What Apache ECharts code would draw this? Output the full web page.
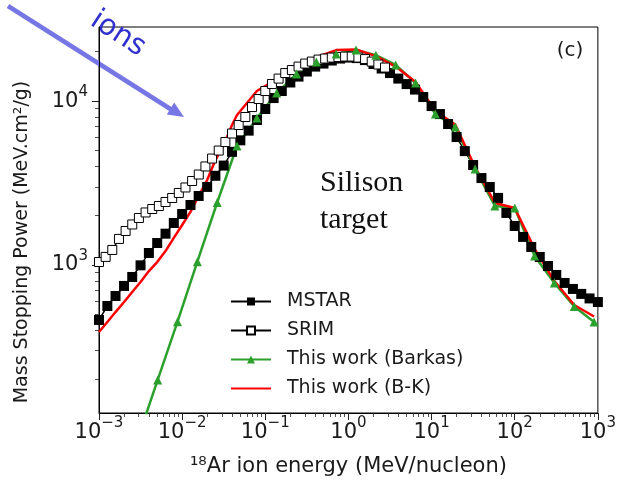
<!DOCTYPE html>
<html>
<head>
<meta charset="utf-8">
<script src="https://cdn.jsdelivr.net/npm/echarts@6/dist/echarts.min.js"></script>
<style>
  html, body { margin: 0; padding: 0; background: #fff; }
  #chart { width: 619px; height: 484px; }
</style>
</head>
<body>
<div id="chart"></div>
<script>
// Stopping power of 18Ar ions in a silicon target (MeV cm^2/g vs MeV/nucleon)

// MSTAR table
const mstarEnergy = [0.001, 0.00126, 0.00158, 0.002, 0.00251, 0.00316, 0.00398, 0.00501, 0.00631, 0.00794,
  0.01, 0.0126, 0.0158, 0.02, 0.0251, 0.0316, 0.0398, 0.0501, 0.0631, 0.0794,
  0.1, 0.126, 0.158, 0.2, 0.251, 0.316, 0.398, 0.501, 0.631, 0.794,
  1, 1.26, 1.58, 2, 2.51, 3.16, 3.98, 5.01, 6.31, 7.94,
  10, 12.6, 15.8, 20, 25.1, 31.6, 39.8, 50.1, 63.1, 79.4,
  100, 126, 158, 200, 251, 316, 398, 501, 631, 794, 1000];
const mstarPower = [462, 562, 647, 745, 845, 995, 1183, 1361, 1552, 1804,
  2046, 2323, 2636, 2993, 3500, 4040, 4900, 5760, 6600, 7660,
  8940, 10430, 11510, 12980, 14100, 15140, 16230, 16930, 17670, 18170,
  18420, 18280, 17780, 16820, 15790, 14820, 13710, 12690, 11750, 10580,
  9320, 8330, 7240, 6030, 4950, 4070, 3390, 2990, 2565, 2077,
  1729, 1483, 1288, 1119, 986, 869, 777, 714, 666, 625, 594];

// SRIM table
const srimEnergy = [0.001, 0.001202, 0.001445, 0.001738, 0.002089, 0.002512, 0.00302, 0.003631, 0.004365, 0.005248,
  0.00631, 0.007586, 0.00912, 0.01096, 0.01318, 0.01585, 0.01905, 0.02291, 0.02754, 0.03311,
  0.03981, 0.04786, 0.05754, 0.06918, 0.08318, 0.1, 0.1202, 0.1445, 0.1738, 0.2089,
  0.2512, 0.302, 0.3631, 0.4365, 0.5248, 0.631, 0.7586, 0.912, 1.096, 1.318,
  1.585, 1.905, 2.291, 2.754];
const srimPower = [1042, 1120, 1235, 1442, 1612, 1766, 1935, 2091, 2195, 2290,
  2422, 2563, 2750, 2970, 3253, 3563, 3990, 4460, 4990, 5620,
  6340, 7140, 7990, 9190, 10290, 11510, 12700, 13710, 14820, 15460,
  16230, 16930, 17410, 17910, 18170, 18420, 18550, 18680, 18680, 18420,
  18030, 17410, 16710, 16010];

// This work, Barkas correction
const barkasEnergy = [0.00293, 0.00508, 0.0088, 0.01524, 0.0264, 0.04572, 0.0792, 0.1372, 0.2376, 0.4115,
  0.7128, 1.235, 2.138, 3.704, 6.415, 11.11, 19.25, 33.33, 57.74, 100,
  173.2, 300, 519.6, 900];
const barkasPower = [87.3, 199, 451, 1048, 2405, 5320, 7870, 11190, 14630, 17300,
  19360, 20480, 19050, 16600, 12880, 8330, 6940, 3850, 2290, 2228,
  1135, 776, 558, 449];

// This work, Barkas + Kinchin (B-K)
const bkEnergy = [0.001, 0.00126, 0.00158, 0.002, 0.00251, 0.00316, 0.00398, 0.00501, 0.00631, 0.00794,
  0.01, 0.0126, 0.0158, 0.02, 0.0251, 0.0316, 0.0398,
  0.04572, 0.0792, 0.1372, 0.2376, 0.4115, 0.7128, 1.235, 2.138, 3.704, 6.415,
  11.11, 19.25, 33.33, 57.74, 100, 173.2, 300, 519.6, 900];
const bkPower = [390, 449, 516, 594, 684, 787, 918, 1042, 1216, 1462,
  1754, 2106, 2636, 3300, 4366, 5396, 7140,
  8220, 11510, 13620, 16000, 18530, 20470, 20660, 18790, 16230, 13060,
  8690, 7200, 3960, 2390, 2228, 1253, 798, 570, 485];

const seriesNames = ['MSTAR', 'SRIM', 'This work (Barkas)', 'This work (B-K)'];

// axis ranges and tick decades
const energyRange = [0.001, 1000];
const powerRange = [125, 28300];
const energyDecades = [-3, -2, -1, 0, 1, 2, 3];
const powerDecades = [3, 4];
const minorMultipliers = [2, 3, 4, 5, 6, 7, 8, 9];

const FONT = 'DejaVu Sans';
const INK = '#1a1a1a';
const lg = Math.log10;
const toPoints = (xs, ys) => xs.map((x, i) => [lg(x), lg(ys[i])]);

function minorTicks(range) {
  const lo = lg(range[0]), hi = lg(range[1]);
  const out = [];
  for (let d = Math.floor(lo); d <= Math.ceil(hi); d++) {
    minorMultipliers.forEach(m => {
      const v = d + lg(m);
      if (v > lo && v < hi) out.push(v);
    });
  }
  return out;
}

function powLabel(v) {
  const e = Math.round(v);
  const sup = (e < 0 ? '\u2212' : '') + Math.abs(e);
  return '{b|10}{s|' + sup + '}';
}

const labelRich = {
  b: { fontSize: 21, fontFamily: FONT, color: INK, lineHeight: 33 },
  s: { fontSize: 15, fontFamily: FONT, color: INK, lineHeight: 15, verticalAlign: 'top' }
};

const xMin = lg(energyRange[0]), xMax = lg(energyRange[1]);
const yMin = lg(powerRange[0]), yMax = lg(powerRange[1]);

const chart = echarts.init(document.getElementById('chart'), null, { renderer: 'canvas' });

chart.setOption({
  animation: false,
  backgroundColor: '#fff',
  grid: {
    left: 99, right: 16, top: 27, bottom: 71,
    show: true, borderColor: '#000', borderWidth: 1, backgroundColor: 'transparent'
  },
  xAxis: [
    {
      type: 'value', min: xMin, max: xMax, position: 'bottom',
      name: '\u00b9\u2078Ar ion energy (MeV/nucleon)',
      nameLocation: 'middle', nameGap: 43,
      nameTextStyle: { fontSize: 21, fontFamily: FONT, color: INK },
      axisLine: { show: true, onZero: false, lineStyle: { color: '#000', width: 1 } },
      axisTick: { show: true, length: 7, lineStyle: { color: '#222', width: 1 }, customValues: energyDecades },
      axisLabel: { customValues: energyDecades, margin: 3, formatter: powLabel, rich: labelRich },
      splitLine: { show: false }
    },
    {
      type: 'value', min: xMin, max: xMax, position: 'bottom',
      axisLine: { show: false, onZero: false },
      axisTick: { show: true, length: 4, lineStyle: { color: '#222', width: 0.8 }, customValues: minorTicks(energyRange) },
      axisLabel: { show: false },
      splitLine: { show: false }
    }
  ],
  yAxis: [
    {
      type: 'value', min: yMin, max: yMax, position: 'left',
      name: 'Mass Stopping Power (MeV.cm\u00b2/g)',
      nameLocation: 'middle', nameGap: 67, nameRotate: 90,
      nameTextStyle: { fontSize: 19, fontFamily: FONT, color: INK, padding: [0, 44, 0, 0] },
      axisLine: { show: true, onZero: false, lineStyle: { color: '#000', width: 1 } },
      axisTick: { show: true, length: 7, lineStyle: { color: '#222', width: 1 }, customValues: powerDecades },
      axisLabel: { customValues: powerDecades, margin: 11, formatter: powLabel, rich: labelRich },
      splitLine: { show: false }
    },
    {
      type: 'value', min: yMin, max: yMax, position: 'left',
      axisLine: { show: false, onZero: false },
      axisTick: { show: true, length: 4, lineStyle: { color: '#222', width: 0.8 }, customValues: minorTicks(powerRange) },
      axisLabel: { show: false },
      splitLine: { show: false }
    }
  ],
  legend: {
    orient: 'vertical', left: 225, top: 287,
    itemWidth: 40, itemHeight: 10, itemGap: 10,
    textStyle: { fontSize: 19, fontFamily: FONT, color: INK, padding: [0, 0, 0, 11] },
    data: [
      { name: seriesNames[0] },
      { name: seriesNames[1] },
      { name: seriesNames[2] },
      { name: seriesNames[3], itemStyle: { opacity: 0 } }
    ],
    selectedMode: false
  },
  series: [
    {
      name: seriesNames[0], type: 'line', xAxisIndex: 0, yAxisIndex: 0,
      data: toPoints(mstarEnergy, mstarPower),
      symbol: 'rect', symbolSize: 10, showAllSymbol: true, silent: true,
      itemStyle: { color: '#000' },
      lineStyle: { color: '#000', width: 1.5 }
    },
    {
      name: seriesNames[1], type: 'line', xAxisIndex: 0, yAxisIndex: 0,
      data: toPoints(srimEnergy, srimPower),
      symbol: 'rect', symbolSize: 9, showAllSymbol: true, silent: true,
      itemStyle: { color: '#fff', borderColor: '#000', borderWidth: 1 },
      lineStyle: { color: '#000', width: 1.5 }
    },
    {
      name: seriesNames[2], type: 'line', xAxisIndex: 0, yAxisIndex: 0,
      data: toPoints(barkasEnergy, barkasPower),
      symbol: 'triangle', symbolSize: 9, showAllSymbol: true, silent: true,
      itemStyle: { color: '#2ca02c' },
      lineStyle: { color: '#2ca02c', width: 2.5 }
    },
    {
      name: seriesNames[3], type: 'line', xAxisIndex: 0, yAxisIndex: 0,
      data: toPoints(bkEnergy, bkPower),
      symbol: 'none', silent: true,
      itemStyle: { color: '#ff0000' },
      lineStyle: { color: '#ff0000', width: 2.5 }
    }
  ],
  graphic: [
    // incoming-ion arrow
    { type: 'line', silent: true, shape: { x1: 8, y1: 6, x2: 172, y2: 110 },
      style: { stroke: '#7676e4', lineWidth: 4.5 } },
    { type: 'polygon', silent: true, shape: { points: [[184, 117], [166.8, 114.4], [174.2, 102.6]] },
      style: { fill: '#7676e4' } },
    { type: 'text', silent: true, x: 118, y: 34, rotation: -0.58,
      style: { text: 'ions', fontSize: 29, fontFamily: FONT, fill: '#3030cc', align: 'center', verticalAlign: 'middle' } },
    { type: 'text', silent: true, x: 570, y: 51,
      style: { text: '(c)', fontSize: 20, fontFamily: FONT, fill: INK, align: 'center', verticalAlign: 'middle' } },
    { type: 'text', silent: true, x: 320, y: 183,
      style: { text: 'Silison', fontSize: 30, fontFamily: 'Liberation Serif', fill: '#111', align: 'left', verticalAlign: 'middle' } },
    { type: 'text', silent: true, x: 320, y: 220,
      style: { text: 'target', fontSize: 30, fontFamily: 'Liberation Serif', fill: '#111', align: 'left', verticalAlign: 'middle' } }
  ]
});
</script>
</body>
</html>
